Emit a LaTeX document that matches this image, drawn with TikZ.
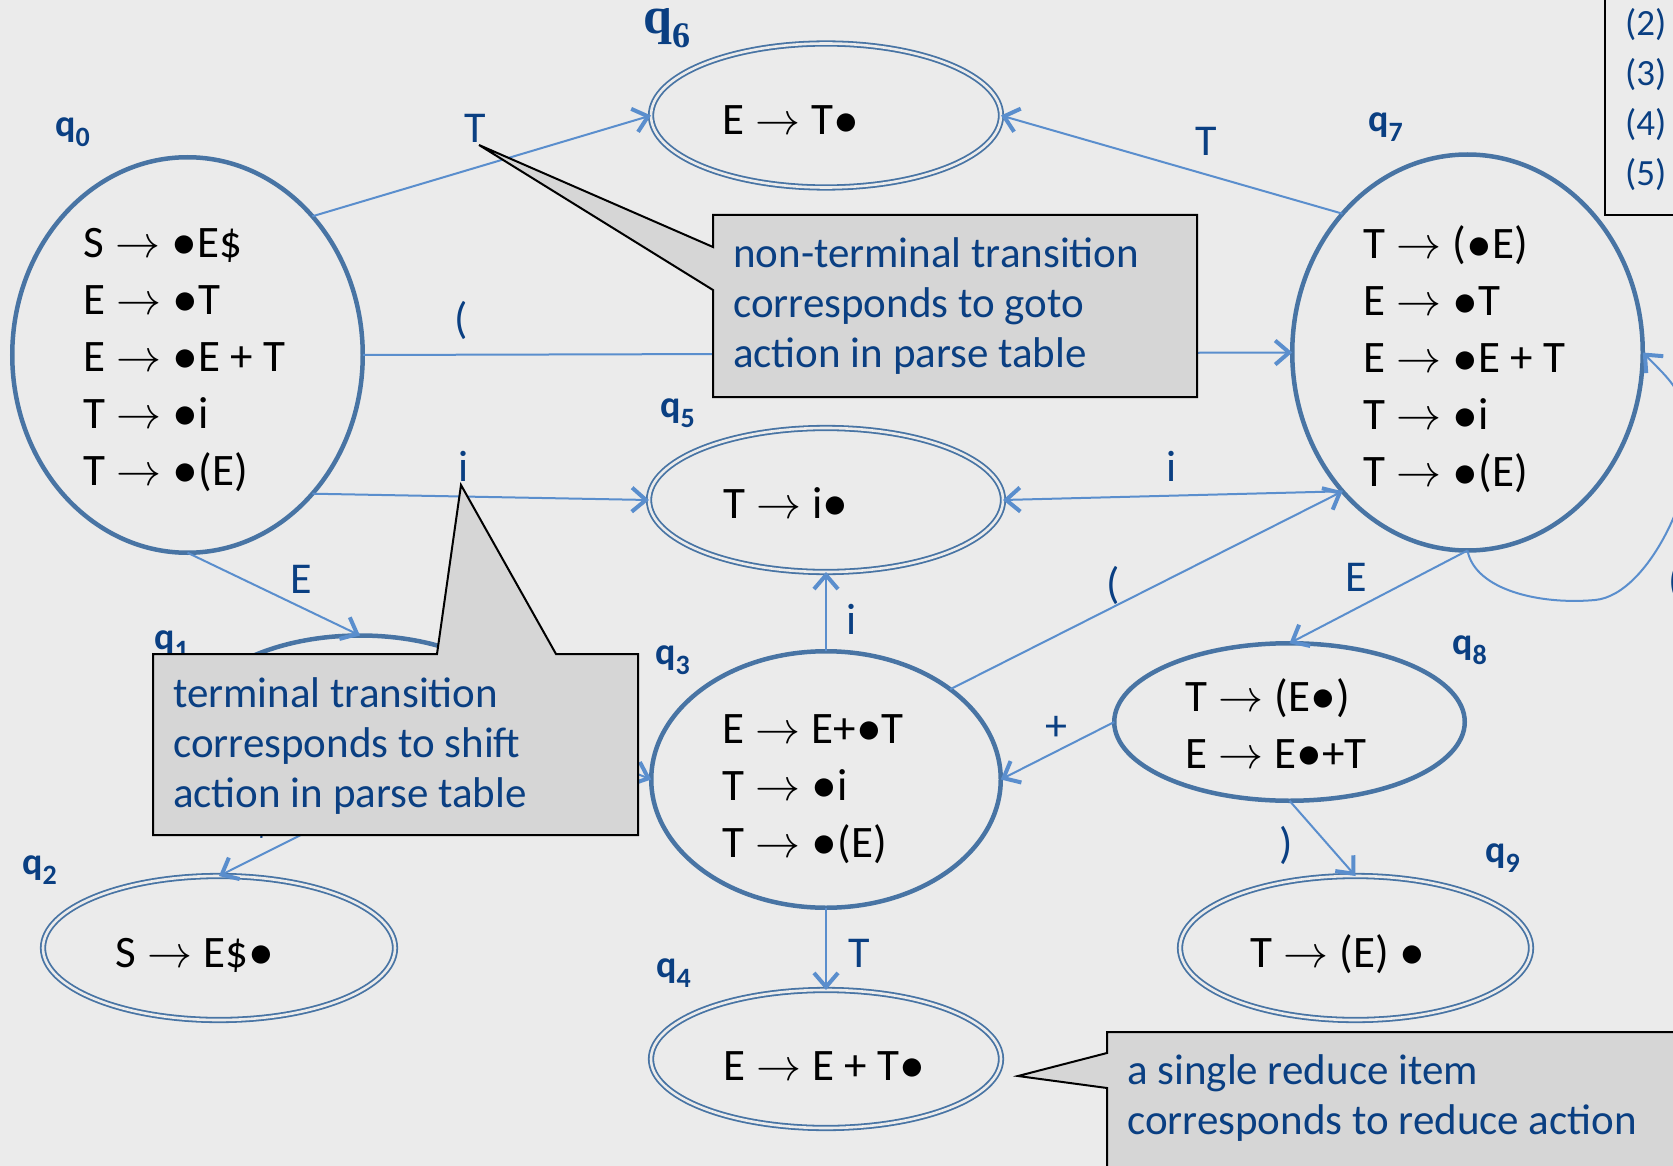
\documentclass[tikz,border=0pt]{standalone}
\usepackage{graphicx}
\usepackage{fontspec}
\setmainfont{Carlito}
\newfontfamily\qserif{Liberation Serif}
\usetikzlibrary{shapes.geometric,arrows.meta}
\definecolor{bgc}{HTML}{EBEBEB}
\definecolor{nodec}{HTML}{4874A4}
\definecolor{edgec}{HTML}{5A8ECD}
\definecolor{labc}{HTML}{0A3F82}
\definecolor{callc}{HTML}{D6D6D6}
\newcommand\arr{\hspace{0.25em}\resizebox{1em}{!}{$\rightarrow$}\hspace{0.25em}}
\newcommand\bul{\raisebox{-0.05em}{\scalebox{1.15}{\textbullet}}}
\newcommand\qlab[1]{\bfseries q\raisebox{-10pt}{\fontsize{28}{28}\selectfont #1}}
\tikzset{
  state/.style={ellipse, draw=nodec, line width=4.5pt, inner sep=0pt, outer sep=0pt},
  final/.style={ellipse, draw=nodec, line width=1.8pt, double=bgc, double distance=2.6pt, inner sep=0pt, outer sep=0pt},
  edge/.style={draw=edgec, line width=2pt, -{Straight Barb[length=14pt,width=24pt,line width=4pt]}},
  elab/.style={text=labc, font=\fontsize{44}{44}\selectfont, inner sep=0pt},
  items/.style={text=black, font=\fontsize{45}{57}\selectfont, align=left, inner sep=0pt, anchor=west},
  item/.style={text=black, font=\fontsize{45}{57}\selectfont, inner sep=0pt, anchor=base west},
  qname/.style={text=labc, font=\fontsize{38}{38}\selectfont, anchor=base west, inner sep=0pt},
  callout/.style={fill=callc, draw=black, line width=2pt, line join=miter},
  ctext/.style={text=labc, font=\fontsize{43}{50}\selectfont, align=left, anchor=west, inner sep=0pt}
}
\begin{document}
\begin{tikzpicture}[x=1pt,y=-1pt]
\useasboundingbox (0,0) rectangle (1673,1166);
\clip (0,0) rectangle (1673,1166);
\fill[bgc] (0,0) rectangle (1673,1166);

% states
\node[state, minimum width=350.5pt, minimum height=395.5pt] (q0) at (187.5,355) {};
\node[state, minimum width=350.5pt, minimum height=396pt] (q7) at (1467.5,352.5) {};
\node[state, minimum width=349.5pt, minimum height=256.5pt] (q3) at (826,779.5) {};
\node[state, minimum width=350.5pt, minimum height=157.5pt] (q8) at (1289.5,722) {};
\node[state, minimum width=350pt, minimum height=195pt] (q1) at (360,733) {};
\node[final, minimum width=350pt, minimum height=144pt] (q6) at (826,115.5) {};
\node[final, minimum width=354pt, minimum height=144pt] (q5) at (826,500) {};
\node[final, minimum width=350pt, minimum height=138pt] (q4) at (826,1059) {};
\node[final, minimum width=352pt, minimum height=144pt] (q2) at (219,948) {};
\node[final, minimum width=351pt, minimum height=144pt] (q9) at (1355.5,948) {};

% edges
\draw[edge] (q0.48) -- (q6.west);
\draw[edge] (q7.132) -- (q6.east);
\draw[edge] (q0.east) -- (q7.west);
\draw[edge] (q0.-48) -- (q5.west);
\draw[edge] (q7.228) -- (q5.east);
\draw[edge] (q3.36) -- (q7.228);
\draw[edge] (q3.north) -- (q5.south);
\draw[edge] (q3.south) -- (q4.north);
\draw[edge] (q7.south) -- (q8.north);
\draw[edge] (q8.west) -- (q3.east);
\draw[edge] (q8.south) -- (q9.north);
\draw[edge] (q0.south) -- (q1.north);
\draw[edge] (q1.-115) -- (q2.north);
\draw[edge] (q1.east) -- (q3.west);
\draw[edge] (q7.south) .. controls (1475,590) and (1540,605) .. (1595,600)
  .. controls (1650,595) and (1700,480) .. (1690,430)
  .. controls (1682,390) and (1672,382) .. (q7.east);

% edge labels
\node[elab] (lT1) at (475,128) {T};
\node[elab] (lT2) at (1206,141) {T};
\node[elab] (lp1) at (461,320) {(};
\node[elab] (li1) at (464,466) {i};
\node[elab] (li2) at (1172,466) {i};
\node[elab] (lp2) at (1113,585) {(};
\node[elab] (li3) at (852,619) {i};
\node[elab] (lT3) at (859,953) {T};
\node[elab] (lE2) at (1356,577) {E};
\node[elab] (lplus) at (1056,728) {+};
\node[elab] (lrp) at (1286,845) {)};
\node[elab] (lE1) at (301,579) {E};
\node[elab] (ldol) at (263,822) {\$};
\node[elab, anchor=west] (lp3) at (1668,582) {(};

% state names
\node[qname] (n0) at (55,137) {\qlab{0}};
\node[qname] (n1) at (154,649) {\qlab{1}};
\node[qname] (n2) at (22,874) {\qlab{2}};
\node[qname] (n3) at (655,664) {\qlab{3}};
\node[qname] (n4) at (656,977) {\qlab{4}};
\node[qname] (n5) at (660,417) {\qlab{5}};
\node[qname, font=\qserif\fontsize{52}{52}\selectfont, text height=26pt] (n6) at (643,34) {\bfseries q\raisebox{-14pt}{\fontsize{36}{36}\selectfont 6}};
\node[qname] (n7) at (1368,132) {\qlab{7}};
\node[qname] (n8) at (1452,654) {\qlab{8}};
\node[qname] (n9) at (1485,862) {\qlab{9}};

% items
\node[items] (t0) at (83,360) {S\arr\bul E\$\\E\arr\bul T\\E\arr\bul E + T\\T\arr\bul i\\T\arr\bul(E)};
\node[items] (t7) at (1363,359.5) {T\arr(\bul E)\\E\arr\bul T\\E\arr\bul E + T\\T\arr\bul i\\T\arr\bul(E)};
\node[items] (t3) at (722,789) {E\arr E+\bul T\\T\arr\bul i\\T\arr\bul(E)};
\node[items] (t8) at (1185,724.5) {T\arr(E\bul)\\E\arr E\bul+T};
\node[item] (t6) at (722,135) {E\arr T\bul};
\node[item] (t5) at (723,518) {T\arr i\bul};
\node[item] (t4) at (723,1080) {E\arr E + T\bul};
\node[item] (t9) at (1250,967) {T\arr(E) \bul};
\node[item] (t2) at (115,967) {S\arr E\$\bul};

% callouts
\path[callout] (713,215) -- (1197,215) -- (1197,397) -- (713,397) -- (713,290) -- (479,145) -- (713,247) -- cycle;
\node[ctext] (c1) at (733,306) {non-terminal transition\\corresponds to goto\\action in parse table};
\path[callout] (153,654) -- (437,654) -- (461,485) -- (556,654) -- (638,654) -- (638,835) -- (153,835) -- cycle;
\node[ctext] (c2) at (173,746) {terminal transition\\corresponds to shift\\action in parse table};
\path[callout] (1107,1032) -- (1700,1032) -- (1700,1200) -- (1107,1200) -- (1107,1088) -- (1018,1076) -- (1107,1053) -- cycle;
\node[ctext] (c3) at (1127,1098) {a single reduce item\\corresponds to reduce action};

% rule box
\draw[black, line width=2pt] (1605,-10) rectangle (1700,215);
\node[text=labc, font=\fontsize{37}{50}\selectfont, align=left, anchor=west, inner sep=0pt] (rules) at (1625,100) {(2)\\(3)\\(4)\\(5)};
\end{tikzpicture}
\end{document}
